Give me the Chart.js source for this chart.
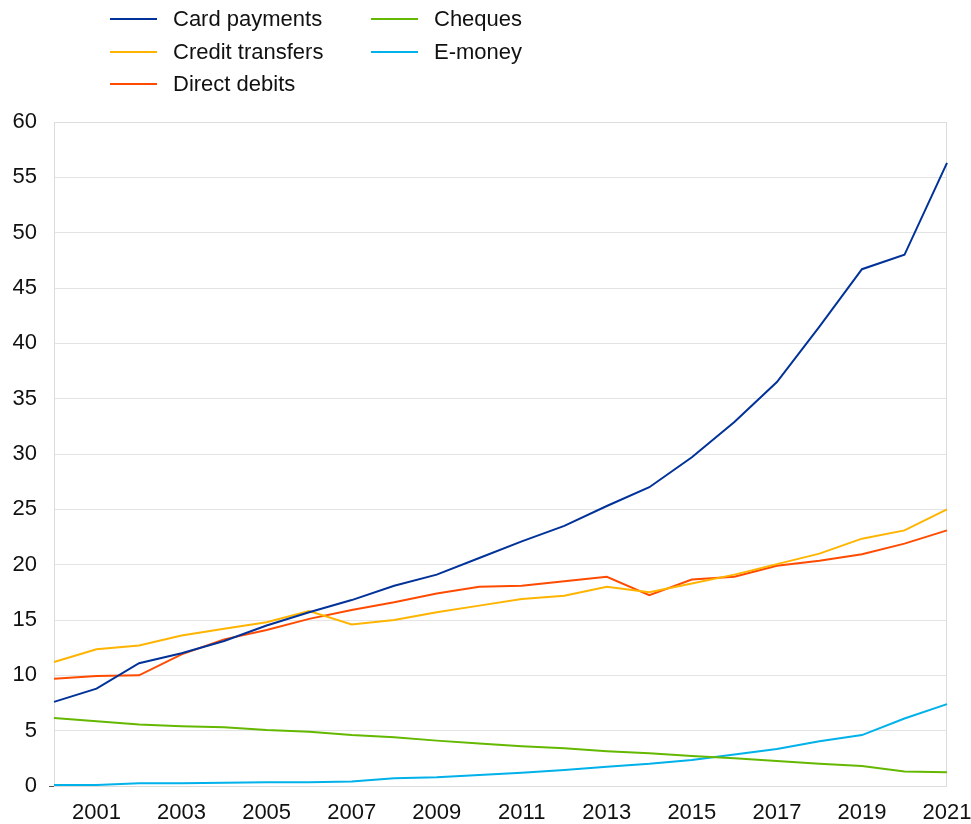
<!DOCTYPE html>
<html>
<head>
<meta charset="utf-8">
<script src="https://cdn.jsdelivr.net/npm/chart.js@4"></script>
<style>
  html, body { margin: 0; padding: 0; background: #fff; }
  #wrap { position: relative; width: 971px; height: 824px; font-family: "Liberation Sans", Arial, sans-serif; }
  #chart { position: absolute; left: 0; top: 0; }
  .leg { position: absolute; font-size: 22px; color: #111; line-height: 26px; white-space: nowrap; }
  .leg span.sw { position: absolute; left: 0; top: 12px; width: 47px; height: 2px; }
  .leg span.tx { position: absolute; left: 63px; top: 0; }
</style>
</head>
<body>
<div id="wrap">
  <canvas id="chart" width="971" height="824"></canvas>
  <div id="legend"></div>
</div>
<script>
const years = ["2000", "2001", "2002", "2003", "2004", "2005", "2006", "2007", "2008", "2009", "2010",
  "2011", "2012", "2013", "2014", "2015", "2016", "2017", "2018", "2019", "2020", "2021"];

const cardPayments = [7.6, 8.8, 11.1, 12.0, 13.1, 14.5, 15.7, 16.8, 18.1, 19.1, 20.6,
  22.1, 23.5, 25.3, 27.0, 29.7, 32.9, 36.5, 41.5, 46.7, 48.0, 56.3];
const creditTransfers = [11.2, 12.35, 12.7, 13.6, 14.2, 14.8, 15.8, 14.6, 15.0, 15.7, 16.3,
  16.9, 17.2, 18.0, 17.5, 18.3, 19.1, 20.05, 21.0, 22.35, 23.1, 25.0];
const directDebits = [9.7, 9.95, 10.0, 11.9, 13.25, 14.1, 15.1, 15.9, 16.6, 17.4, 18.0,
  18.1, 18.5, 18.9, 17.25, 18.65, 18.9, 19.9, 20.35, 20.95, 21.9, 23.1];
const cheques = [6.15, 5.85, 5.55, 5.4, 5.3, 5.05, 4.9, 4.6, 4.4, 4.1, 3.85,
  3.6, 3.4, 3.15, 2.95, 2.7, 2.5, 2.25, 2.0, 1.8, 1.3, 1.25];
const eMoney = [0.1, 0.1, 0.25, 0.25, 0.3, 0.35, 0.35, 0.4, 0.7, 0.8, 1.0,
  1.2, 1.45, 1.75, 2.0, 2.35, 2.85, 3.35, 4.05, 4.6, 6.1, 7.4];

const series = [
  { label: "Card payments", data: cardPayments, color: "#003299" },
  { label: "Credit transfers", data: creditTransfers, color: "#ffb400" },
  { label: "Direct debits", data: directDebits, color: "#ff4b00" },
  { label: "Cheques", data: cheques, color: "#65b800" },
  { label: "E-money", data: eMoney, color: "#00b1ea" },
];

// legend: two columns, filled top to bottom
const legendPos = [[110, 6], [110, 39], [110, 71], [371, 6], [371, 39]];
const legendEl = document.getElementById("legend");
series.forEach((s, i) => {
  const d = document.createElement("div");
  d.className = "leg";
  d.style.left = legendPos[i][0] + "px";
  d.style.top = legendPos[i][1] + "px";
  d.innerHTML = '<span class="sw" style="background:' + s.color + '"></span><span class="tx">' + s.label + "</span>";
  legendEl.appendChild(d);
});

const frame = {
  id: "frame",
  beforeDatasetsDraw(chart) {
    const { ctx, chartArea: a } = chart;
    ctx.save();
    ctx.strokeStyle = "#dcdcdc";
    ctx.lineWidth = 1;
    ctx.strokeRect(a.left + 0.5, a.top + 0.5, a.right - a.left - 1, a.bottom - a.top);
    ctx.restore();
  },
};

const fontFamily = '"Liberation Sans", Arial, sans-serif';

new Chart(document.getElementById("chart"), {
  type: "line",
  data: {
    labels: years,
    datasets: series.map((s) => ({
      label: s.label,
      data: s.data,
      borderColor: s.color,
      backgroundColor: s.color,
      borderWidth: 2,
      pointRadius: 0,
      tension: 0,
      fill: false,
    })),
  },
  options: {
    responsive: false,
    animation: false,
    layout: { padding: { top: 122, right: 24, left: 0, bottom: 0 } },
    plugins: { legend: { display: false }, tooltip: { enabled: false } },
    scales: {
      x: {
        offset: false,
        grid: { display: false, drawTicks: false },
        border: { display: false },
        afterFit: (scale) => {
          scale.height = 38;
          scale.paddingRight = 0;
          scale.paddingLeft = 0;
        },
        ticks: {
          autoSkip: false,
          maxRotation: 0,
          padding: 14,
          color: "#111",
          font: { family: fontFamily, size: 22 },
          callback: (v, i) => (i % 2 === 1 ? years[i] : ""),
        },
      },
      y: {
        min: 0,
        max: 60,
        afterFit: (scale) => { scale.width = 54; },
        grid: {
          color: "#e4e4e4",
          lineWidth: 1,
          tickLength: 5,
          tickColor: (c) => (c.tick && c.tick.value === 0 ? "#555" : "rgba(0,0,0,0)"),
        },
        border: { display: true, color: "#dcdcdc" },
        ticks: {
          stepSize: 5,
          padding: 12,
          color: "#111",
          font: { family: fontFamily, size: 22 },
        },
      },
    },
  },
  plugins: [frame],
});
</script>
</body>
</html>
